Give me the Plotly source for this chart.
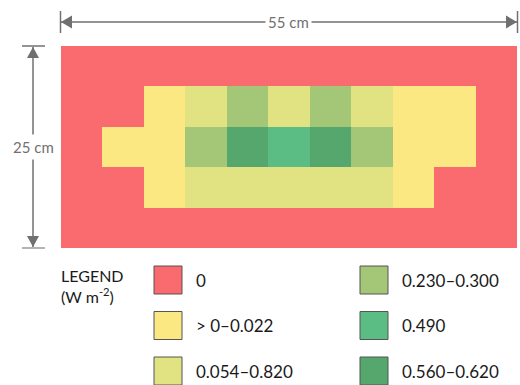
import plotly.graph_objects as go

# categorías del mapa (0 = sin irradiancia ... 5 = máximo)
legend_labels = ['0', '> 0–0.022', '0.054–0.820', '0.230–0.300', '0.490', '0.560–0.620']
legend_colors = ['#F96B6E', '#FCE883', '#E1E383', '#A3C777', '#5BBD84', '#55A76D']

grid = [
    [0, 0, 0, 0, 0, 0, 0, 0, 0, 0, 0],
    [0, 0, 1, 2, 3, 2, 3, 2, 1, 1, 0],
    [0, 1, 1, 3, 5, 4, 5, 3, 1, 1, 0],
    [0, 0, 1, 2, 2, 2, 2, 2, 1, 0, 0],
    [0, 0, 0, 0, 0, 0, 0, 0, 0, 0, 0],
]

width_label = '55 cm'
height_label = '25 cm'

W, H = 520, 385
GRAY = '#707070'
FONT = 'Lato, sans-serif'


def px(x):
    return x / W


def py(y):
    return 1 - y / H


# escala discreta
n = len(legend_colors)
colorscale = []
for i, c in enumerate(legend_colors):
    colorscale.append([i / n, c])
    colorscale.append([(i + 1) / n, c])

fig = go.Figure(go.Heatmap(
    z=grid,
    zmin=-0.5, zmax=n - 0.5,
    colorscale=colorscale,
    showscale=False,
    hoverinfo='skip',
))

shapes = []
annotations = []

# cota horizontal
hy = 22
shapes.append(dict(type='line', xref='paper', yref='paper', x0=px(61), x1=px(517), y0=py(hy), y1=py(hy),
                   line=dict(color=GRAY, width=1.5)))
for xe in (60.5, 517.5):
    shapes.append(dict(type='line', xref='paper', yref='paper', x0=px(xe), x1=px(xe), y0=py(11), y1=py(33),
                       line=dict(color=GRAY, width=1.5)))
shapes.append(dict(type='path', xref='paper', yref='paper', fillcolor=GRAY, line=dict(width=0),
                   path=f'M {px(61)},{py(hy)} L {px(72)},{py(hy - 6.5)} L {px(72)},{py(hy + 6.5)} Z'))
shapes.append(dict(type='path', xref='paper', yref='paper', fillcolor=GRAY, line=dict(width=0),
                   path=f'M {px(517)},{py(hy)} L {px(506)},{py(hy - 6.5)} L {px(506)},{py(hy + 6.5)} Z'))
annotations.append(dict(x=px(288), y=py(hy), xref='paper', yref='paper', xanchor='center', yanchor='middle',
                        text=width_label, showarrow=False,
                        font=dict(family=FONT, size=15, color=GRAY), bgcolor='white', borderpad=2))

# cota vertical
vx = 33
shapes.append(dict(type='line', xref='paper', yref='paper', x0=px(vx), x1=px(vx), y0=py(47), y1=py(247),
                   line=dict(color=GRAY, width=1.5)))
for ye in (46, 248):
    shapes.append(dict(type='line', xref='paper', yref='paper', x0=px(22), x1=px(45), y0=py(ye), y1=py(ye),
                       line=dict(color=GRAY if ye == 46 else '#9a9a9a', width=1.5)))
shapes.append(dict(type='path', xref='paper', yref='paper', fillcolor=GRAY, line=dict(width=0),
                   path=f'M {px(vx)},{py(47)} L {px(vx - 6)},{py(58)} L {px(vx + 6)},{py(58)} Z'))
shapes.append(dict(type='path', xref='paper', yref='paper', fillcolor=GRAY, line=dict(width=0),
                   path=f'M {px(vx)},{py(247)} L {px(vx - 6)},{py(236)} L {px(vx + 6)},{py(236)} Z'))
annotations.append(dict(x=px(vx), y=py(147), xref='paper', yref='paper', xanchor='center', yanchor='middle',
                        text=height_label, showarrow=False,
                        font=dict(family=FONT, size=15, color=GRAY), bgcolor='white', borderpad=3))

# leyenda
annotations.append(dict(x=px(59), y=py(286), xref='paper', yref='paper', xanchor='left', yanchor='middle',
                        align='left', showarrow=False, text='LEGEND<br>(W m<sup>-2</sup>)',
                        font=dict(family=FONT, size=16, color='#1a1a1a')))
for i, (lab, col) in enumerate(zip(legend_labels, legend_colors)):
    c, r = divmod(i, 3)
    x0 = 154 + c * 206
    y0 = 266 + r * 45.5
    shapes.append(dict(type='rect', xref='paper', yref='paper', x0=px(x0), x1=px(x0 + 28),
                       y0=py(y0), y1=py(y0 + 28), fillcolor=col, line=dict(color='#555555', width=1)))
    annotations.append(dict(x=px(x0 + 40), y=py(y0 + 14), xref='paper', yref='paper', xanchor='left',
                            yanchor='middle', text=lab, showarrow=False,
                            font=dict(family=FONT, size=17, color='#1a1a1a')))

fig.update_layout(
    width=W, height=H,
    margin=dict(l=0, r=0, t=0, b=0),
    paper_bgcolor='white', plot_bgcolor='white',
    xaxis=dict(domain=[px(61), px(517)], range=[-0.5, 10.5], visible=False, fixedrange=True),
    yaxis=dict(domain=[py(248), py(46)], range=[4.5, -0.5], visible=False, fixedrange=True),
    shapes=shapes,
    annotations=annotations,
    showlegend=False,
)

# quitar el margen por defecto del body para que el gráfico quede en 520x385
fig.write_html('out.html', post_script="document.body.style.margin='0';document.body.style.overflow='hidden';",
               config={'displayModeBar': False})
